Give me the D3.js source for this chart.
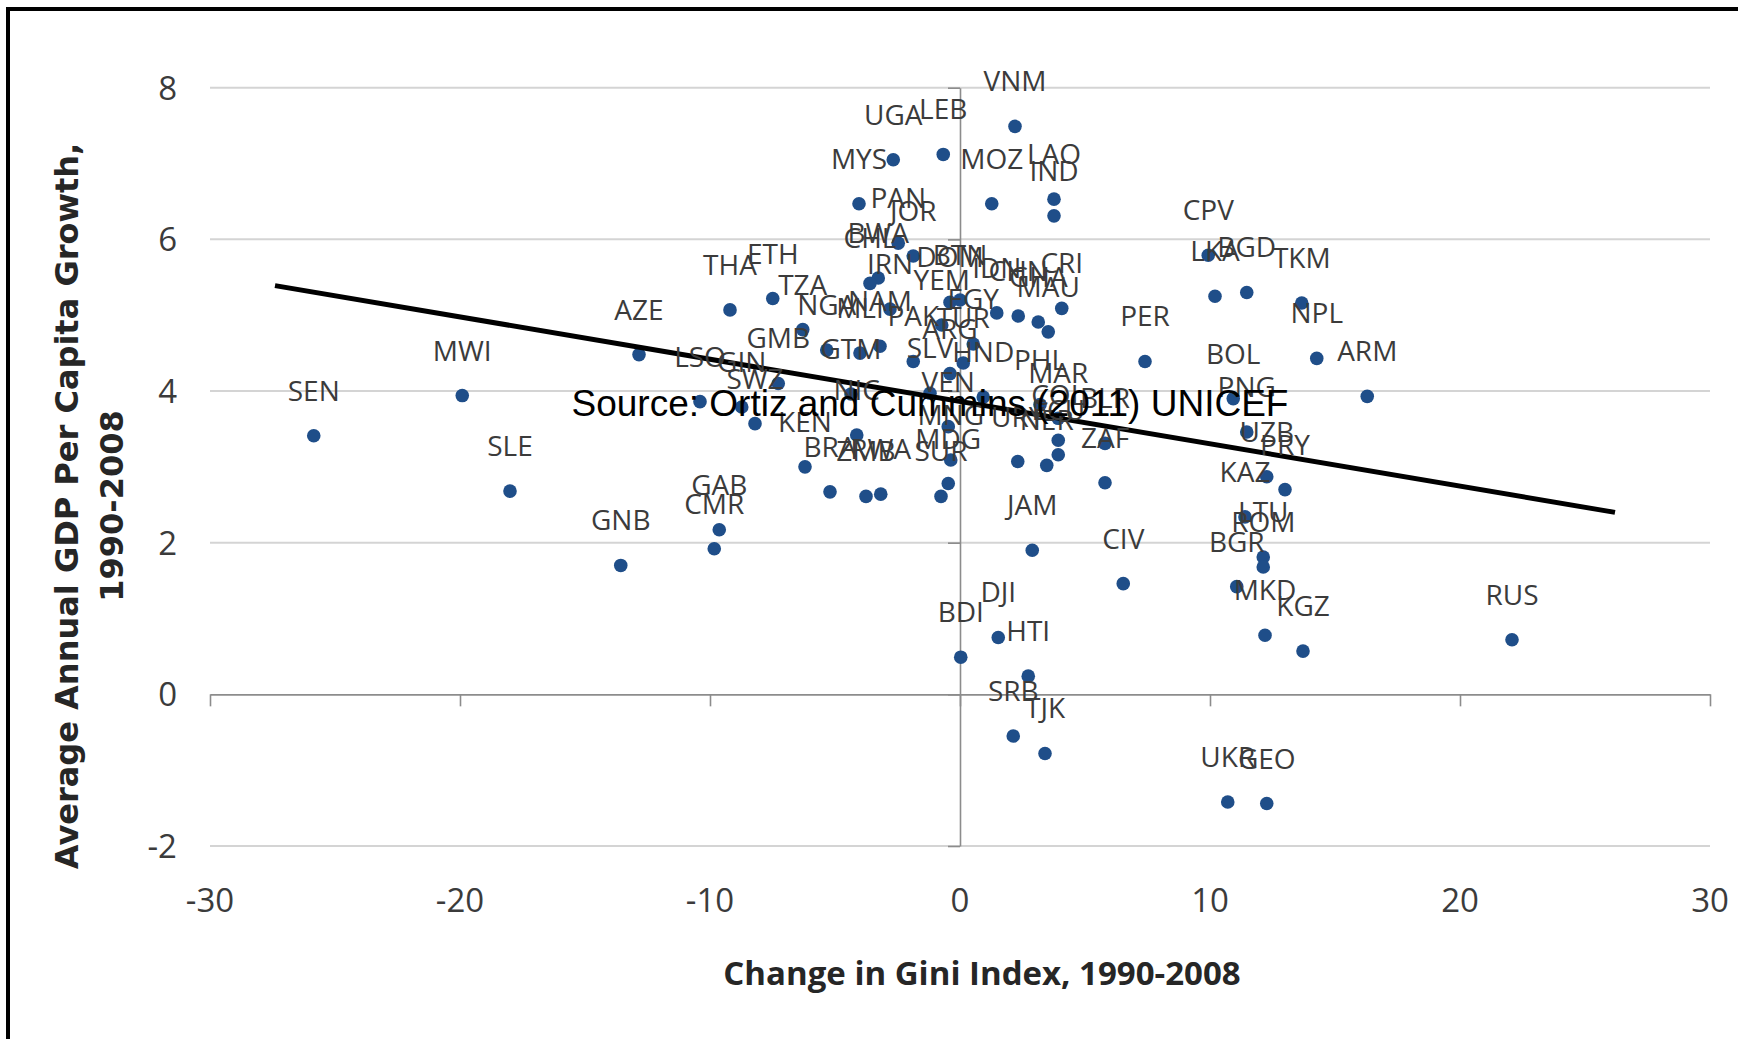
<!DOCTYPE html>
<html>
<head>
<meta charset="utf-8">
<script src="https://cdn.jsdelivr.net/npm/d3@7"></script>
<style>
    html, body { margin: 0; padding: 0; background: #ffffff; }
</style>
</head>
<body>
<div id="chart"></div>
<script>

const countries = ["SEN", "MWI", "SLE", "GNB", "AZE", "LSO", "GIN", "THA", "ETH", "TZA",
    "GMB", "SWZ", "KEN", "GAB", "CMR", "BRA", "ZMB", "RWA", "NIC", "GTM",
    "NGA", "MLI", "NAM", "PAN", "JOR", "BWA", "CHL", "IRN", "MYS", "UGA",
    "LEB", "VNM", "MOZ", "LAO", "IND", "DOM", "BTN", "YEM", "EGY", "PAK",
    "TUR", "ARG", "SLV", "HND", "VEN", "MNG", "MDG", "SUR", "IDN", "CHN",
    "GHA", "MAU", "CRI", "PHL", "MAR", "COL", "ECU", "URY", "NER", "BLR",
    "ZAF", "PER", "JAM", "CIV", "DJI", "HTI", "BDI", "SRB", "TJK", "UKR",
    "GEO", "CPV", "LKA", "BGD", "TKM", "NPL", "ARM", "BOL", "PNG", "UZB",
    "PRY", "KAZ", "LTU", "ROM", "BGR", "MKD", "KGZ", "RUS"];

const giniChange = [-25.85, -19.91, -18.00, -13.57, -12.84, -10.40, -8.73, -9.20, -7.49, -6.29,
    -7.27, -8.20, -6.20, -9.63, -9.83, -5.20, -3.76, -3.17, -4.13, -4.36,
    -5.33, -4.00, -3.20, -2.47, -1.87, -3.27, -3.60, -2.80, -4.04, -2.67,
    -0.67, 2.20, 1.27, 3.76, 3.76, -0.40, 0.00, -0.73, 0.53, -1.87,
    0.13, -0.40, -1.20, 0.93, -0.47, -0.37, -0.47, -0.76, 1.47, 2.33,
    3.13, 3.53, 4.07, 3.20, 3.93, 3.93, 3.93, 2.31, 3.47, 5.80,
    5.80, 7.40, 2.89, 6.53, 1.53, 2.73, 0.03, 2.13, 3.40, 10.71,
    12.27, 9.93, 10.20, 11.47, 13.67, 14.27, 16.29, 10.93, 11.47, 12.27,
    13.00, 11.40, 12.13, 12.13, 11.07, 12.20, 13.72, 22.08];

const gdpGrowth = [3.41, 3.94, 2.68, 1.70, 4.48, 3.86, 3.79, 5.07, 5.22, 4.81,
    4.10, 3.57, 3.00, 2.17, 1.92, 2.67, 2.61, 2.64, 3.42, 3.96,
    4.54, 4.50, 4.59, 5.95, 5.78, 5.49, 5.42, 5.08, 6.47, 7.05,
    7.12, 7.49, 6.47, 6.53, 6.31, 5.17, 5.20, 4.87, 4.62, 4.39,
    4.37, 4.23, 3.97, 3.92, 3.53, 3.09, 2.78, 2.61, 5.03, 4.99,
    4.91, 4.78, 5.09, 3.82, 3.64, 3.35, 3.16, 3.07, 3.02, 3.31,
    2.79, 4.39, 1.90, 1.46, 0.75, 0.24, 0.49, -0.55, -0.78, -1.42,
    -1.44, 5.79, 5.25, 5.30, 5.16, 4.43, 3.93, 3.90, 3.46, 2.87,
    2.70, 2.34, 1.81, 1.68, 1.42, 0.78, 0.57, 0.72];

// linear trend line as drawn in the source chart
const trendX = [-27.4, 26.2];
const trendY = [5.39, 2.40];

const xTicks = [-30, -20, -10, 0, 10, 20, 30];
const yTicks = [-2, 0, 2, 4, 6, 8];

const xTitle = "Change in Gini Index, 1990-2008";
const yTitle = ["Average Annual GDP Per Capita Growth,", "1990-2008"];
const sourceNote = "Source: Ortiz and Cummins (2011) UNICEF";

class ScatterHandler {

    constructor() {
        this._options = {
            width: 1738,
            height: 1039,
            left: 210,
            right: 1710,
            top: 87.7,
            bottom: 846,
            dotColor: "#1F4E89",
            dotRadius: 6.8,
            gridColor: "#D4D4D4",
            axisColor: "#8C8C8C",
            textColor: "#3B3B3B"
        };
        this._svg;
        this._x;
        this._y;
    }

    createChart() {
        let o = this._options;

        this._x = d3.scaleLinear().domain([-30, 30]).range([o.left, o.right]);
        this._y = d3.scaleLinear().domain([-2, 8]).range([o.bottom, o.top]);

        this._svg = d3.create("svg")
            .attr("width", o.width)
            .attr("height", o.height)
            .style("display", "block");

        this._svg.append("rect")
            .attr("width", o.width)
            .attr("height", o.height)
            .attr("fill", "#ffffff");

        // outer frame (cut off on the right and bottom)
        this._svg.append("rect")
            .attr("x", 8)
            .attr("y", 9)
            .attr("width", 1900)
            .attr("height", 1200)
            .attr("fill", "none")
            .attr("stroke", "#000000")
            .attr("stroke-width", 4);

        return this;
    }

    drawAxes() {
        let o = this._options;
        let x = this._x, y = this._y;

        let grid = this._svg.append("g").attr("id", "grid");
        grid.selectAll(null)
            .data(yTicks.filter(d => d !== 0))
            .join("line")
            .attr("x1", o.left)
            .attr("x2", o.right)
            .attr("y1", d => y(d))
            .attr("y2", d => y(d))
            .attr("stroke", o.gridColor)
            .attr("stroke-width", 2);

        // horizontal axis runs through y = 0
        let xAxis = this._svg.append("g")
            .attr("transform", `translate(0,${y(0)})`)
            .call(d3.axisBottom(x).tickValues(xTicks).tickSize(12).tickSizeOuter(0).tickFormat(d3.format("d")));
        xAxis.select(".domain").attr("stroke", o.axisColor).attr("stroke-width", 1.6);
        xAxis.selectAll(".tick line").attr("stroke", o.axisColor).attr("stroke-width", 1.6);
        xAxis.selectAll(".tick text").remove();

        // vertical axis runs through x = 0
        let yAxis = this._svg.append("g")
            .attr("transform", `translate(${x(0)},0)`)
            .call(d3.axisLeft(y).tickValues(yTicks).tickSize(12).tickSizeOuter(0));
        yAxis.select(".domain").attr("stroke", o.axisColor).attr("stroke-width", 1.6);
        yAxis.selectAll(".tick line").attr("stroke", o.axisColor).attr("stroke-width", 1.6);
        yAxis.selectAll(".tick text").remove();

        // tick labels sit at the plot edges, not on the axes
        this._svg.append("g")
            .selectAll(null)
            .data(xTicks)
            .join("text")
            .attr("x", d => x(d))
            .attr("y", 912)
            .attr("text-anchor", "middle")
            .attr("font-family", "Open Sans")
            .attr("font-size", 33)
            .attr("fill", o.textColor)
            .text(d => d);

        this._svg.append("g")
            .selectAll(null)
            .data(yTicks)
            .join("text")
            .attr("x", 177)
            .attr("y", d => y(d) + 12)
            .attr("text-anchor", "end")
            .attr("font-family", "Open Sans")
            .attr("font-size", 33)
            .attr("fill", o.textColor)
            .text(d => d);

        this._svg.append("text")
            .attr("x", 982)
            .attr("y", 985)
            .attr("text-anchor", "middle")
            .attr("font-family", "Open Sans")
            .attr("font-weight", "bold")
            .attr("font-size", 33)
            .attr("fill", "#262626")
            .text(xTitle);

        this._svg.append("g")
            .attr("transform", "translate(0,506) rotate(-90)")
            .selectAll(null)
            .data(yTitle)
            .join("text")
            .attr("x", 0)
            .attr("y", (d, i) => 78 + i * 45)
            .attr("text-anchor", "middle")
            .attr("font-family", "DejaVu Sans")
            .attr("font-weight", "bold")
            .attr("font-size", 32)
            .attr("fill", "#262626")
            .text(d => d);

        return this;
    }

    drawPoints() {
        let o = this._options;
        let x = this._x, y = this._y;

        this._svg.append("g")
            .attr("id", "dots")
            .selectAll(null)
            .data(countries)
            .join("circle")
            .attr("cx", (d, i) => x(giniChange[i]))
            .attr("cy", (d, i) => y(gdpGrowth[i]))
            .attr("r", o.dotRadius)
            .attr("fill", o.dotColor);

        let line = d3.line()
            .x(d => x(d[0]))
            .y(d => y(d[1]));

        this._svg.append("path")
            .datum(trendX.map((d, i) => [d, trendY[i]]))
            .attr("d", line)
            .attr("fill", "none")
            .attr("stroke", "#000000")
            .attr("stroke-width", 5);

        this._svg.append("g")
            .attr("id", "labels")
            .selectAll(null)
            .data(countries)
            .join("text")
            .attr("x", (d, i) => x(giniChange[i]))
            .attr("y", (d, i) => y(gdpGrowth[i]) - 35)
            .attr("text-anchor", "middle")
            .attr("font-family", "Open Sans")
            .attr("font-size", 28)
            .attr("fill", o.textColor)
            .text(d => d);

        this._svg.append("text")
            .attr("x", 930)
            .attr("y", 416)
            .attr("text-anchor", "middle")
            .attr("font-family", "Liberation Sans")
            .attr("font-size", 37)
            .attr("fill", "#000000")
            .text(sourceNote);

        return this;
    }

    attach(container) {
        container.append(this._svg.node());
        return this;
    }
}

new ScatterHandler()
    .createChart()
    .drawAxes()
    .drawPoints()
    .attach(document.getElementById("chart"));

</script>
</body>
</html>
